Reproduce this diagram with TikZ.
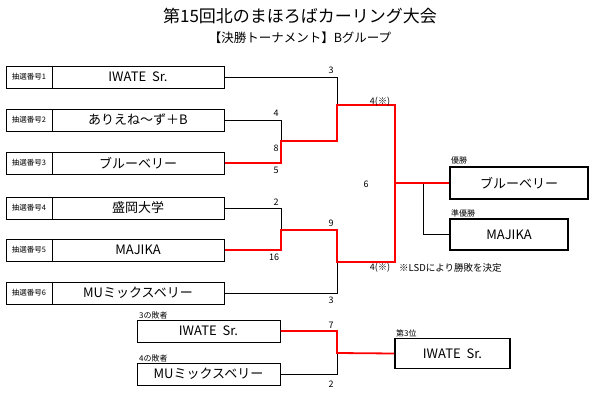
\documentclass[tikz,border=0pt]{standalone}
\usepackage{fontspec}
\setmainfont{Noto Sans CJK JP}
\begin{document}
\begin{tikzpicture}[x=1pt,y=-1pt,
  num/.style={draw,line width=1pt,minimum width=46pt,minimum height=22pt,inner sep=0pt,font=\fontsize{7.5}{8}\selectfont},
  team/.style={draw,line width=1pt,minimum width=172pt,minimum height=22pt,inner sep=0pt,font=\fontsize{13}{14}\selectfont},
  team3/.style={draw,line width=1pt,minimum width=143pt,minimum height=22pt,inner sep=0pt,font=\fontsize{13}{14}\selectfont},
  res/.style={draw,line width=1.6pt,inner sep=0pt,font=\fontsize{13}{14}\selectfont},
  sc/.style={font=\fontsize{9}{10}\selectfont,inner sep=1pt},
  lab/.style={font=\fontsize{8}{9}\selectfont,inner sep=0pt,anchor=south west},
  bl/.style={line width=0.6pt},
  rd/.style={red,line width=1.8pt}]
\useasboundingbox (0,0) rectangle (600,400);
\node[font=\fontsize{17}{18}\selectfont] (t1) at (300,16) {第15回北のまほろばカーリング大会};
\node[font=\fontsize{12.5}{14}\selectfont] (t2) at (300,38) {【決勝トーナメント】Bグループ};
\foreach \i/\y/\t in {1/77/IWATE\ \ Sr.,2/120/ありえね～ず＋B,3/163/ブルーベリー,4/208/盛岡大学,5/250/MAJIKA,6/293/MUミックスベリー}{
  \node[num] (n\i) at (29,\y) {抽選番号\i};
  \node[team] (r\i) at (138,\y) {\t};
}
\node[team3] (a) at (208.5,331) {IWATE\ \ Sr.};
\node[team3] (b) at (208.5,374) {MUミックスベリー};
\node[lab] (la) at (139,319) {3の敗者};
\node[lab] (lb) at (139,362) {4の敗者};
\node[res,minimum width=138pt,minimum height=32pt] (w) at (519,183) {ブルーベリー};
\node[res,minimum width=118pt,minimum height=31pt] (ru) at (509,234.5) {MAJIKA};
\node[res,minimum width=115pt,minimum height=30pt] (th) at (452.5,353.5) {IWATE\ \ Sr.};
\node[lab] (lw) at (451,164) {優勝};
\node[lab] (lru) at (451,217) {準優勝};
\node[lab] (lth) at (396,337) {第3位};
\node[font=\fontsize{9.5}{10}\selectfont,anchor=west,inner sep=0pt] (note) at (399,268) {※LSDにより勝敗を決定};
\coordinate (j23) at (281,141);
\coordinate (j45) at (281,230);
\coordinate (s1) at (337,105);
\coordinate (s2) at (337,262);
\coordinate (f) at (395,183);
\draw[bl] (r2.east) -| (j23);
\draw[bl] (r1.east) -| (s1);
\draw[bl] (r4.east) -| (j45);
\draw[bl] (r6.east) -| (s2);
\draw[bl] (b.east) -| (337,353);
\draw[bl] (423,183) |- (ru.west);
\draw[rd] (r3.east) -| (j23) -| (s1) -| (f) -- (w.west);
\draw[rd] (r5.east) -| (j45) -| (s2) -| (f);
\draw[rd] (a.east) -| (337,353) -- (th.west);
\node[sc] (c1) at (331,70) {3};
\node[sc] (c2) at (380,102) {4(※)};
\node[sc] (c3) at (276,113) {4};
\node[sc] (c4) at (276,148) {8};
\node[sc] (c5) at (276,170) {5};
\node[sc] (c6) at (276,202) {2};
\node[sc] (c7) at (331,223) {9};
\node[sc] (c8) at (274,257) {16};
\node[sc] (c9) at (380,268) {4(※)};
\node[sc] (c10) at (331,300) {3};
\node[sc] (c11) at (366,184) {6};
\node[sc] (c12) at (331,325) {7};
\node[sc] (c13) at (331,384) {2};
\end{tikzpicture}
\end{document}
